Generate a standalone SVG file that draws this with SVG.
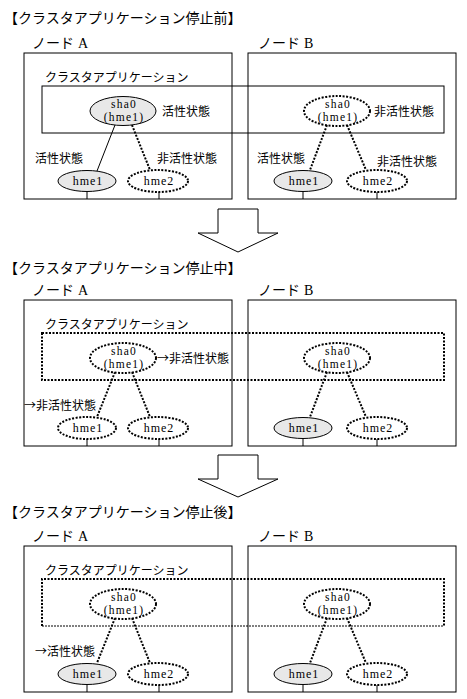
<svg xmlns="http://www.w3.org/2000/svg" width="467" height="699" viewBox="0 0 467 699">
<style>
text { fill:#000; }
.jp { font-family:"Noto Sans CJK JP", sans-serif; font-size:12px; }
.t14 { font-size:14px; }
.la { font-family:"Liberation Serif", serif; }
.lat { font-family:"Liberation Serif", serif; font-size:12px; letter-spacing:1px; text-anchor:middle; }
.lat11 { font-family:"Liberation Serif", serif; font-size:11.5px; letter-spacing:1.2px; text-anchor:middle; }
.box { fill:#fff; stroke:#000; stroke-width:1; }
.app { fill:none; stroke:#000; stroke-width:1; }
.appd { fill:none; stroke:#000; stroke-width:2; stroke-dasharray:2 1.5; }
.appt { fill:none; stroke:#000; stroke-width:1; stroke-dasharray:2 1; }
.on { fill:#e8e8e8; stroke:#000; stroke-width:1; }
.off { fill:#fff; stroke:#000; stroke-width:2; stroke-dasharray:2 1.5; }
.ln { stroke:#000; stroke-width:1; fill:none; }
.dl { stroke:#000; stroke-width:2; stroke-dasharray:2 1.5; fill:none; }
.arrow { fill:#fff; stroke:#000; stroke-width:1; }
</style>

<!-- Section 1 -->
<text class="jp t14" x="4" y="23">【クラスタアプリケーション停止前】</text>
<g id="nodeA1">
  <rect class="box" x="24" y="53" width="208" height="146"/>
  <text class="jp t14" x="32" y="48">ノード<tspan class="la" dx="4">A</tspan></text>
</g>
<g id="nodeB1">
  <rect class="box" x="248" y="53" width="208" height="146"/>
  <text class="jp t14" x="258" y="48">ノード<tspan class="la" dx="4">B</tspan></text>
</g>
<g id="app1">
  <rect class="app" x="42" y="86" width="402" height="47"/>
  <text class="jp" x="45" y="82">クラスタアプリケーション</text>
</g>
<g id="connectors1">
  <line class="ln" x1="115" y1="125" x2="97" y2="171"/>
  <line class="dl" x1="132" y1="125" x2="150" y2="170"/>
  <line class="dl" x1="327" y1="125" x2="310" y2="170"/>
  <line class="dl" x1="347" y1="125" x2="366" y2="170"/>
  <line class="ln" x1="87" y1="192" x2="87" y2="199"/>
  <line class="ln" x1="159" y1="192" x2="159" y2="199"/>
  <line class="ln" x1="303" y1="192" x2="303" y2="199"/>
  <line class="ln" x1="377" y1="192" x2="377" y2="199"/>
</g>
<g id="shaA1">
  <ellipse class="on" cx="123" cy="111" rx="33" ry="14.5"/>
  <text class="lat11" x="124" y="108">sha0</text>
  <text class="lat11" x="124" y="121">(hme1)</text>
  <text class="jp" x="162" y="116">活性状態</text>
</g>
<g id="shaB1">
  <ellipse class="off" cx="337" cy="111" rx="33" ry="15"/>
  <text class="lat11" x="338" y="108">sha0</text>
  <text class="lat11" x="338" y="121">(hme1)</text>
  <text class="jp" x="374" y="116">非活性状態</text>
</g>
<g id="hmeA1-1">
  <ellipse class="on" cx="87" cy="181" rx="29" ry="10.5"/>
  <text class="lat" x="88" y="185">hme1</text>
  <text class="jp" x="35" y="163">活性状態</text>
</g>
<g id="hmeA2-1">
  <ellipse class="off" cx="158" cy="181" rx="30" ry="11"/>
  <text class="lat" x="159" y="185">hme2</text>
  <text class="jp" x="157" y="163">非活性状態</text>
</g>
<g id="hmeB1-1">
  <ellipse class="on" cx="303" cy="181" rx="29" ry="10.5"/>
  <text class="lat" x="304" y="185">hme1</text>
  <text class="jp" x="257" y="163">活性状態</text>
</g>
<g id="hmeB2-1">
  <ellipse class="off" cx="377" cy="181" rx="30" ry="11"/>
  <text class="lat" x="378" y="185">hme2</text>
  <text class="jp" x="377" y="166">非活性状態</text>
</g>

<g id="arrow1">
  <polygon class="arrow" points="218,209 258,209 258,233 278,233 238,252 198,233 218,233"/>
</g>

<!-- Section 2 -->
<text class="jp t14" x="4" y="273">【クラスタアプリケーション停止中】</text>
<g id="nodeA2">
  <rect class="box" x="24" y="300" width="208" height="146"/>
  <text class="jp t14" x="32" y="295">ノード<tspan class="la" dx="4">A</tspan></text>
</g>
<g id="nodeB2">
  <rect class="box" x="248" y="300" width="208" height="146"/>
  <text class="jp t14" x="258" y="295">ノード<tspan class="la" dx="4">B</tspan></text>
</g>
<g id="app2">
  <rect class="appd" x="42" y="333" width="402" height="47"/>
  <text class="jp" x="45" y="329">クラスタアプリケーション</text>
</g>
<g id="connectors2">
  <line class="dl" x1="115" y1="372" x2="97" y2="417"/>
  <line class="dl" x1="132" y1="372" x2="150" y2="417"/>
  <line class="dl" x1="327" y1="372" x2="310" y2="417"/>
  <line class="dl" x1="347" y1="372" x2="366" y2="417"/>
  <line class="ln" x1="87" y1="439" x2="87" y2="446"/>
  <line class="ln" x1="159" y1="439" x2="159" y2="446"/>
  <line class="ln" x1="303" y1="439" x2="303" y2="446"/>
  <line class="ln" x1="377" y1="439" x2="377" y2="446"/>
</g>
<g id="shaA2">
  <ellipse class="off" cx="123" cy="358" rx="33" ry="15"/>
  <text class="lat11" x="124" y="355">sha0</text>
  <text class="lat11" x="124" y="368">(hme1)</text>
  <text class="jp" x="157" y="363">→非活性状態</text>
</g>
<g id="shaB2">
  <ellipse class="off" cx="337" cy="358" rx="33" ry="15"/>
  <text class="lat11" x="338" y="355">sha0</text>
  <text class="lat11" x="338" y="368">(hme1)</text>
</g>
<g id="hmeA1-2">
  <ellipse class="off" cx="87" cy="428" rx="29" ry="11"/>
  <text class="lat" x="88" y="432">hme1</text>
  <text class="jp" x="24" y="410">→非活性状態</text>
</g>
<g id="hmeA2-2">
  <ellipse class="off" cx="158" cy="428" rx="30" ry="11"/>
  <text class="lat" x="159" y="432">hme2</text>
</g>
<g id="hmeB1-2">
  <ellipse class="on" cx="303" cy="428" rx="29" ry="10.5"/>
  <text class="lat" x="304" y="432">hme1</text>
</g>
<g id="hmeB2-2">
  <ellipse class="off" cx="377" cy="428" rx="30" ry="11"/>
  <text class="lat" x="378" y="432">hme2</text>
</g>

<g id="arrow2">
  <polygon class="arrow" points="218,455 258,455 258,479 278,479 238,497 198,479 218,479"/>
</g>

<!-- Section 3 -->
<text class="jp t14" x="4" y="517">【クラスタアプリケーション停止後】</text>
<g id="nodeA3">
  <rect class="box" x="24" y="546" width="208" height="146"/>
  <text class="jp t14" x="32" y="541">ノード<tspan class="la" dx="4">A</tspan></text>
</g>
<g id="nodeB3">
  <rect class="box" x="248" y="546" width="208" height="146"/>
  <text class="jp t14" x="258" y="541">ノード<tspan class="la" dx="4">B</tspan></text>
</g>
<g id="app3">
  <polyline class="appd" points="42,626 42,579 444,579 444,626"/>
  <line class="appt" x1="42" y1="626" x2="444" y2="626"/>
  <text class="jp" x="45" y="575">クラスタアプリケーション</text>
</g>
<g id="connectors3">
  <line class="dl" x1="115" y1="618" x2="97" y2="663"/>
  <line class="dl" x1="132" y1="618" x2="150" y2="663"/>
  <line class="dl" x1="327" y1="618" x2="310" y2="663"/>
  <line class="dl" x1="347" y1="618" x2="366" y2="663"/>
  <line class="ln" x1="87" y1="685" x2="87" y2="692"/>
  <line class="ln" x1="159" y1="685" x2="159" y2="692"/>
  <line class="ln" x1="303" y1="685" x2="303" y2="692"/>
  <line class="ln" x1="377" y1="685" x2="377" y2="692"/>
</g>
<g id="shaA3">
  <ellipse class="off" cx="123" cy="604" rx="33" ry="15"/>
  <text class="lat11" x="124" y="601">sha0</text>
  <text class="lat11" x="124" y="614">(hme1)</text>
</g>
<g id="shaB3">
  <ellipse class="off" cx="337" cy="604" rx="33" ry="15"/>
  <text class="lat11" x="338" y="601">sha0</text>
  <text class="lat11" x="338" y="614">(hme1)</text>
</g>
<g id="hmeA1-3">
  <ellipse class="on" cx="87" cy="674" rx="29" ry="10.5"/>
  <text class="lat" x="88" y="678">hme1</text>
  <text class="jp" x="35" y="656">→活性状態</text>
</g>
<g id="hmeA2-3">
  <ellipse class="off" cx="158" cy="674" rx="30" ry="11"/>
  <text class="lat" x="159" y="678">hme2</text>
</g>
<g id="hmeB1-3">
  <ellipse class="on" cx="303" cy="674" rx="29" ry="10.5"/>
  <text class="lat" x="304" y="678">hme1</text>
</g>
<g id="hmeB2-3">
  <ellipse class="off" cx="377" cy="674" rx="30" ry="11"/>
  <text class="lat" x="378" y="678">hme2</text>
</g>
</svg>
